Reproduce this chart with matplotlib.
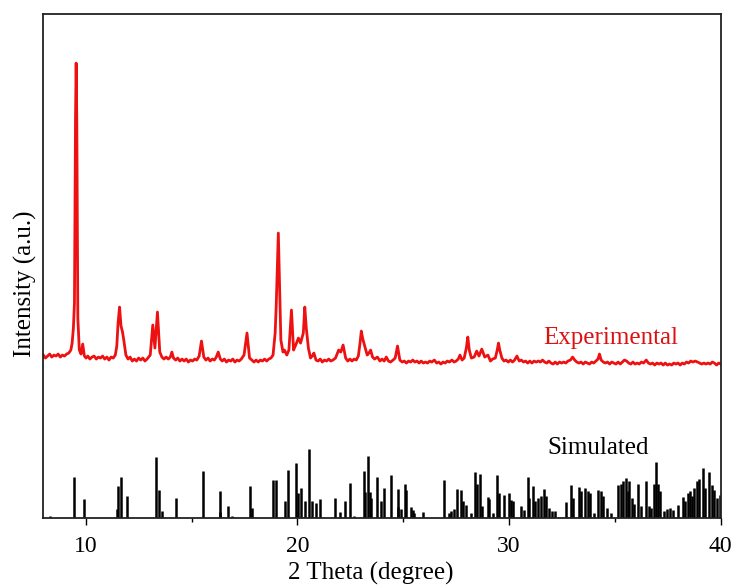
import matplotlib
matplotlib.use("Agg")
import matplotlib.pyplot as plt
from matplotlib.ticker import MultipleLocator

# ---------------- data ----------------
# Experimental pattern: (2-theta in degree, intensity in a.u., offset above the sticks)
experimental = [
    (8.00, 163), (8.10, 160), (8.20, 162), (8.30, 164), (8.40, 161), (8.50, 163), (8.60, 162),
    (8.70, 164), (8.80, 161), (8.90, 163), (9.00, 162), (9.10, 164), (9.20, 165), (9.30, 168),
    (9.36, 175), (9.42, 190), (9.47, 215), (9.52, 400), (9.55, 455), (9.58, 400), (9.63, 200),
    (9.70, 168), (9.78, 164), (9.86, 174), (9.94, 162), (10.02, 160), (10.10, 162), (10.20, 159),
    (10.30, 161), (10.40, 162), (10.50, 159), (10.60, 161), (10.70, 160), (10.80, 162), (10.90, 159),
    (11.00, 161), (11.10, 158), (11.20, 161), (11.30, 160), (11.40, 163), (11.47, 172), (11.53, 195),
    (11.60, 211), (11.67, 192), (11.74, 186), (11.80, 178), (11.90, 163), (12.00, 159), (12.10, 161),
    (12.20, 157), (12.30, 159), (12.40, 157), (12.50, 160), (12.60, 158), (12.70, 160), (12.80, 157),
    (12.90, 159), (13.05, 163), (13.17, 193), (13.27, 170), (13.39, 206), (13.50, 166), (13.60, 161),
    (13.70, 159), (13.80, 161), (13.90, 159), (14.00, 161), (14.07, 166), (14.15, 160), (14.25, 158),
    (14.35, 160), (14.45, 157), (14.55, 159), (14.65, 157), (14.75, 159), (14.85, 156), (14.95, 158),
    (15.05, 157), (15.15, 159), (15.25, 158), (15.36, 162), (15.47, 177), (15.58, 161), (15.68, 158),
    (15.78, 160), (15.88, 157), (15.98, 159), (16.08, 158), (16.17, 161), (16.26, 166), (16.36, 159),
    (16.45, 157), (16.55, 159), (16.65, 156), (16.75, 158), (16.85, 157), (16.95, 159), (17.05, 156),
    (17.15, 158), (17.25, 157), (17.35, 159), (17.48, 163), (17.62, 185), (17.74, 160), (17.85, 158),
    (17.95, 156), (18.05, 158), (18.15, 156), (18.25, 158), (18.35, 157), (18.45, 159), (18.55, 157),
    (18.65, 159), (18.75, 160), (18.85, 163), (18.95, 185), (19.00, 212), (19.05, 250), (19.10, 285),
    (19.15, 240), (19.22, 178), (19.32, 166), (19.39, 168), (19.50, 163), (19.60, 168), (19.72, 208),
    (19.82, 168), (19.92, 173), (20.05, 180), (20.15, 175), (20.28, 185), (20.35, 211), (20.42, 190),
    (20.52, 170), (20.62, 160), (20.70, 162), (20.78, 165), (20.88, 158), (20.98, 157), (21.08, 159),
    (21.18, 156), (21.28, 158), (21.38, 157), (21.48, 159), (21.58, 157), (21.68, 158), (21.80, 160),
    (21.95, 168), (22.05, 166), (22.16, 173), (22.28, 160), (22.38, 157), (22.48, 159), (22.58, 157),
    (22.68, 159), (22.78, 158), (22.88, 162), (22.96, 175), (23.02, 187), (23.08, 180), (23.18, 172),
    (23.30, 163), (23.38, 165), (23.46, 168), (23.55, 161), (23.65, 159), (23.78, 161), (23.90, 157),
    (24.00, 159), (24.10, 157), (24.20, 161), (24.30, 157), (24.40, 156), (24.52, 158), (24.62, 160),
    (24.73, 172), (24.84, 158), (24.95, 156), (25.05, 157), (25.15, 155), (25.25, 157), (25.35, 156),
    (25.45, 158), (25.55, 156), (25.65, 157), (25.75, 155), (25.85, 157), (25.95, 155), (26.05, 156),
    (26.15, 155), (26.25, 157), (26.35, 156), (26.47, 158), (26.58, 155), (26.68, 156), (26.78, 154),
    (26.88, 156), (26.98, 155), (27.08, 157), (27.18, 156), (27.30, 158), (27.40, 156), (27.50, 157),
    (27.60, 159), (27.68, 163), (27.78, 158), (27.88, 160), (27.98, 170), (28.05, 181), (28.12, 168),
    (28.22, 160), (28.35, 161), (28.47, 167), (28.58, 162), (28.71, 169), (28.85, 161), (29.00, 163),
    (29.12, 157), (29.22, 159), (29.35, 160), (29.44, 168), (29.50, 175), (29.56, 168), (29.66, 160),
    (29.76, 157), (29.86, 158), (29.96, 156), (30.06, 158), (30.16, 156), (30.26, 158), (30.37, 162),
    (30.48, 157), (30.58, 158), (30.68, 156), (30.78, 157), (30.88, 155), (30.98, 157), (31.08, 155),
    (31.18, 157), (31.28, 156), (31.38, 157), (31.48, 156), (31.58, 158), (31.68, 156), (31.78, 155),
    (31.88, 157), (31.98, 155), (32.08, 154), (32.18, 156), (32.28, 154), (32.38, 156), (32.48, 155),
    (32.58, 156), (32.68, 155), (32.78, 157), (32.90, 158), (33.00, 161), (33.10, 158), (33.20, 156),
    (33.30, 155), (33.40, 156), (33.50, 154), (33.60, 156), (33.70, 155), (33.80, 154), (33.90, 156),
    (34.00, 155), (34.10, 157), (34.20, 159), (34.27, 164), (34.35, 158), (34.45, 156), (34.55, 155),
    (34.65, 156), (34.75, 154), (34.85, 156), (34.95, 155), (35.05, 154), (35.15, 156), (35.25, 154),
    (35.35, 156), (35.45, 158), (35.55, 157), (35.65, 155), (35.75, 154), (35.85, 156), (35.95, 154),
    (36.05, 155), (36.15, 154), (36.25, 156), (36.35, 155), (36.48, 158), (36.58, 155), (36.68, 154),
    (36.78, 155), (36.88, 153), (36.98, 155), (37.08, 154), (37.18, 155), (37.28, 153), (37.38, 155),
    (37.48, 153), (37.58, 154), (37.68, 153), (37.78, 155), (37.88, 154), (37.98, 155), (38.08, 153),
    (38.18, 155), (38.28, 154), (38.38, 156), (38.48, 155), (38.58, 157), (38.68, 156), (38.80, 157),
    (38.90, 156), (39.00, 155), (39.10, 154), (39.20, 155), (39.30, 154), (39.40, 155), (39.50, 154),
    (39.60, 156), (39.70, 155), (39.80, 153), (39.90, 155), (40.00, 154),
]

# Simulated pattern: stick positions (degree) and relative heights (a.u.)
sim_2theta = [
    8.30, 9.44, 9.90, 11.46, 11.52, 11.65, 11.97, 13.34, 13.46, 13.59, 14.26, 15.52, 16.33, 16.36,
    16.70, 16.90, 17.78, 17.87, 18.84, 18.98, 19.42, 19.58, 19.94, 20.04, 20.15, 20.37, 20.53,
    20.70, 20.90, 21.07, 21.76, 22.00, 22.27, 22.49, 22.68, 23.15, 23.20, 23.32, 23.42, 23.50,
    23.78, 23.97, 24.10, 24.41, 24.73, 24.76, 24.89, 25.10, 25.15, 25.35, 25.47, 25.53, 25.93,
    26.92, 27.14, 27.27, 27.38, 27.55, 27.71, 27.80, 27.95, 28.20, 28.39, 28.47, 28.63, 28.70,
    29.00, 29.05, 29.22, 29.44, 29.53, 29.74, 29.98, 30.10, 30.20, 30.57, 30.70, 30.89, 30.95,
    31.11, 31.24, 31.37, 31.52, 31.63, 31.74, 31.87, 32.03, 32.18, 32.69, 32.91, 33.02, 33.32,
    33.40, 33.60, 33.72, 33.83, 33.99, 34.21, 34.34, 34.45, 34.62, 34.80, 35.16, 35.27, 35.40,
    35.50, 35.60, 35.68, 35.79, 35.90, 36.08, 36.24, 36.48, 36.60, 36.70, 36.85, 36.96, 37.04,
    37.15, 37.30, 37.47, 37.60, 37.76, 38.00, 38.20, 38.30, 38.44, 38.55, 38.62, 38.75, 38.86,
    38.98, 39.14, 39.26, 39.46, 39.59, 39.70, 39.80, 39.98,
]
sim_intensity = [
    2, 41, 19, 9, 32, 41, 22, 61, 28, 7, 20, 47, 6, 27,
    12, 2, 32, 10, 38, 38, 17, 48, 55, 25, 30, 17, 69,
    17, 15, 19, 20, 6, 17, 35, 2, 47, 26, 62, 26, 20,
    41, 17, 30, 43, 11, 29, 9, 34, 28, 11, 8, 5, 6,
    38, 5, 7, 9, 29, 28, 17, 13, 5, 46, 34, 44, 12,
    21, 19, 5, 43, 25, 23, 25, 18, 17, 12, 8, 41, 20,
    32, 17, 20, 22, 29, 22, 10, 7, 7, 16, 33, 20, 31,
    27, 30, 27, 25, 5, 28, 27, 22, 10, 5, 33, 34, 37,
    40, 27, 37, 20, 14, 34, 12, 37, 12, 10, 34, 56, 34,
    27, 7, 9, 10, 8, 13, 21, 17, 25, 27, 22, 30, 37,
    39, 50, 30, 46, 33, 28, 20, 23,
]

x_ticks = [10, 20, 30, 40]
x_limits = (8, 40)
y_limits = (0, 504)

exp_2theta = [p[0] for p in experimental]
exp_intensity = [p[1] for p in experimental]

# ---------------- figure ----------------
plt.rcParams['font.family'] = ['Liberation Serif', 'DejaVu Serif']

fig = plt.figure(figsize=(7.37, 5.87), dpi=100)
ax = fig.add_axes([0.0588, 0.1175, 0.9192, 0.8585])

ax.plot(exp_2theta, exp_intensity, color='#ee1111', lw=2.0, solid_joinstyle='round')
ax.vlines(sim_2theta, 0, sim_intensity, color='black', lw=1.8)

ax.set_xlim(*x_limits)
ax.set_ylim(*y_limits)
ax.set_xticks(x_ticks)
ax.xaxis.set_minor_locator(MultipleLocator(5))
ax.set_yticks([])
ax.tick_params(axis='x', which='major', direction='out', length=5, width=1.0,
               labelsize=17, pad=8)
ax.tick_params(axis='x', which='minor', direction='out', length=3, width=1.0)

for sp in ax.spines.values():
    sp.set_linewidth(1.3)
    sp.set_color('#222222')

ax.set_xlabel('2 Theta (degree)', fontsize=18, labelpad=0)
ax.xaxis.set_label_coords(0.483, -0.087)
ax.set_ylabel('Intensity (a.u.)', fontsize=18)
ax.yaxis.set_label_coords(-0.010, 0.464)

ax.text(31.6, 180, 'Experimental', color='#dd1111', fontsize=18, va='center', ha='left')
ax.text(31.8, 70, 'Simulated', color='black', fontsize=18, va='center', ha='left')

fig.savefig('out.png', dpi=100)
